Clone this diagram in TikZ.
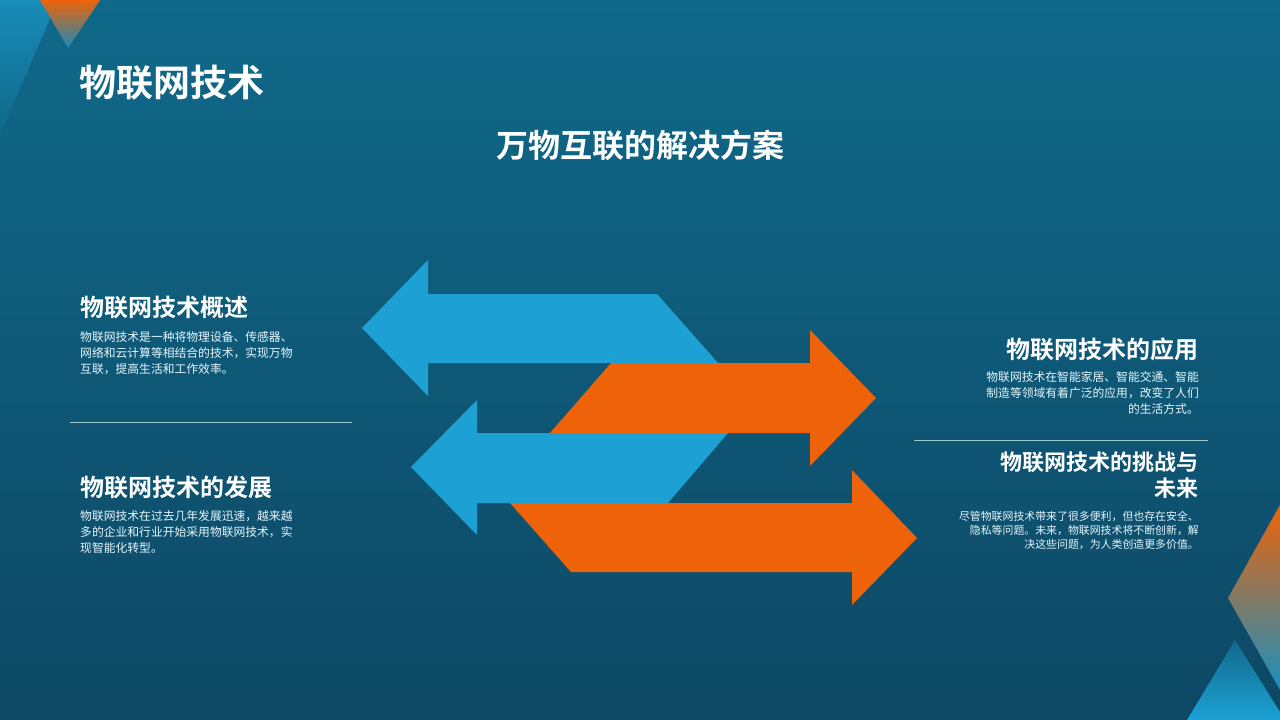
\documentclass[tikz,border=0pt]{standalone}
\usepackage{fontspec}
\setmainfont{Noto Sans CJK SC}
\newfontfamily\cjkb{Noto Sans CJK SC Bold}
\begin{document}
\begin{tikzpicture}[x=1pt,y=-1pt,
  head/.style={text=white,font=\cjkb\fontsize{24}{28}\selectfont,inner sep=0pt},
  body/.style={text=white!90!cyan,font=\fontsize{11.8}{16}\selectfont,inner sep=0pt},
  sep/.style={draw=white!60!teal,line width=0.6pt}]
\definecolor{bgtop}{HTML}{10698A}
\definecolor{bgbot}{HTML}{0D4864}
\definecolor{lblue}{HTML}{1DA1D5}
\definecolor{orng}{HTML}{EE6309}
\useasboundingbox (0,0) rectangle (1280,720);
\shade[top color=bgtop,bottom color=bgbot] (0,0) rectangle (1280,720);
% decorations
\shade[top color=lblue!80!bgtop,bottom color=bgtop,opacity=0.8] (0,0) -- (58,0) -- (0,135) -- cycle;
\shade[top color=orng,bottom color=lblue!60!bgtop] (40,0) -- (100,0) -- (68,48) -- cycle;
\shade[top color=orng,bottom color=lblue!70!bgtop] (1280,505) -- (1228,598) -- (1280,690) -- cycle;
\shade[top color=bgtop,bottom color=lblue] (1187,720) -- (1235,640) -- (1280,712) -- (1280,720) -- cycle;
% arrows
\fill[lblue] (362,328) -- (428,260) -- (428,294) -- (657,294) -- (718,363) -- (428,363) -- (428,396) -- cycle;
\fill[orng] (876,398) -- (810,330) -- (810,363) -- (611,363) -- (550,433) -- (810,433) -- (810,466) -- cycle;
\fill[lblue] (411,467) -- (477,400) -- (477,433) -- (728,433) -- (668,503) -- (477,503) -- (477,535) -- cycle;
\fill[orng] (917,538) -- (852,470) -- (852,503) -- (510,503) -- (571,572) -- (852,572) -- (852,605) -- cycle;
% titles
\node[head,font=\cjkb\fontsize{37}{42}\selectfont,anchor=west] (t) at (79,83) {物联网技术};
\node[head,font=\cjkb\fontsize{32}{36}\selectfont] (st) at (640,145) {万物互联的解决方案};
% left
\node[head,anchor=west] (h1) at (80,308) {物联网技术概述};
\node[body,anchor=north west,align=left] (b1) at (80,331) {物联网技术是一种将物理设备、传感器、\\网络和云计算等相结合的技术，实现万物\\互联，提高生活和工作效率。};
\draw[sep] (70,422) -- (352,422);
\node[head,anchor=west] (h2) at (80,487) {物联网技术的发展};
\node[body,anchor=north west,align=left] (b2) at (80,510) {物联网技术在过去几年发展迅速，越来越\\多的企业和行业开始采用物联网技术，实\\现智能化转型。};
% right
\node[head,anchor=east] (h3) at (1199,349) {物联网技术的应用};
\node[body,anchor=north east,align=right] (b3) at (1199,371) {物联网技术在智能家居、智能交通、智能\\制造等领域有着广泛的应用，改变了人们\\的生活方式。};
\draw[sep] (914,440) -- (1208,440);
\node[head,anchor=north east,align=right,font=\cjkb\fontsize{22}{26}\selectfont] (h4) at (1199,452) {物联网技术的挑战与\\未来};
\node[body,anchor=north east,align=right,font=\fontsize{10.9}{14}\selectfont] (b4) at (1199,511) {尽管物联网技术带来了很多便利，但也存在安全、\\隐私等问题。未来，物联网技术将不断创新，解\\决这些问题，为人类创造更多价值。};
\end{tikzpicture}
\end{document}
